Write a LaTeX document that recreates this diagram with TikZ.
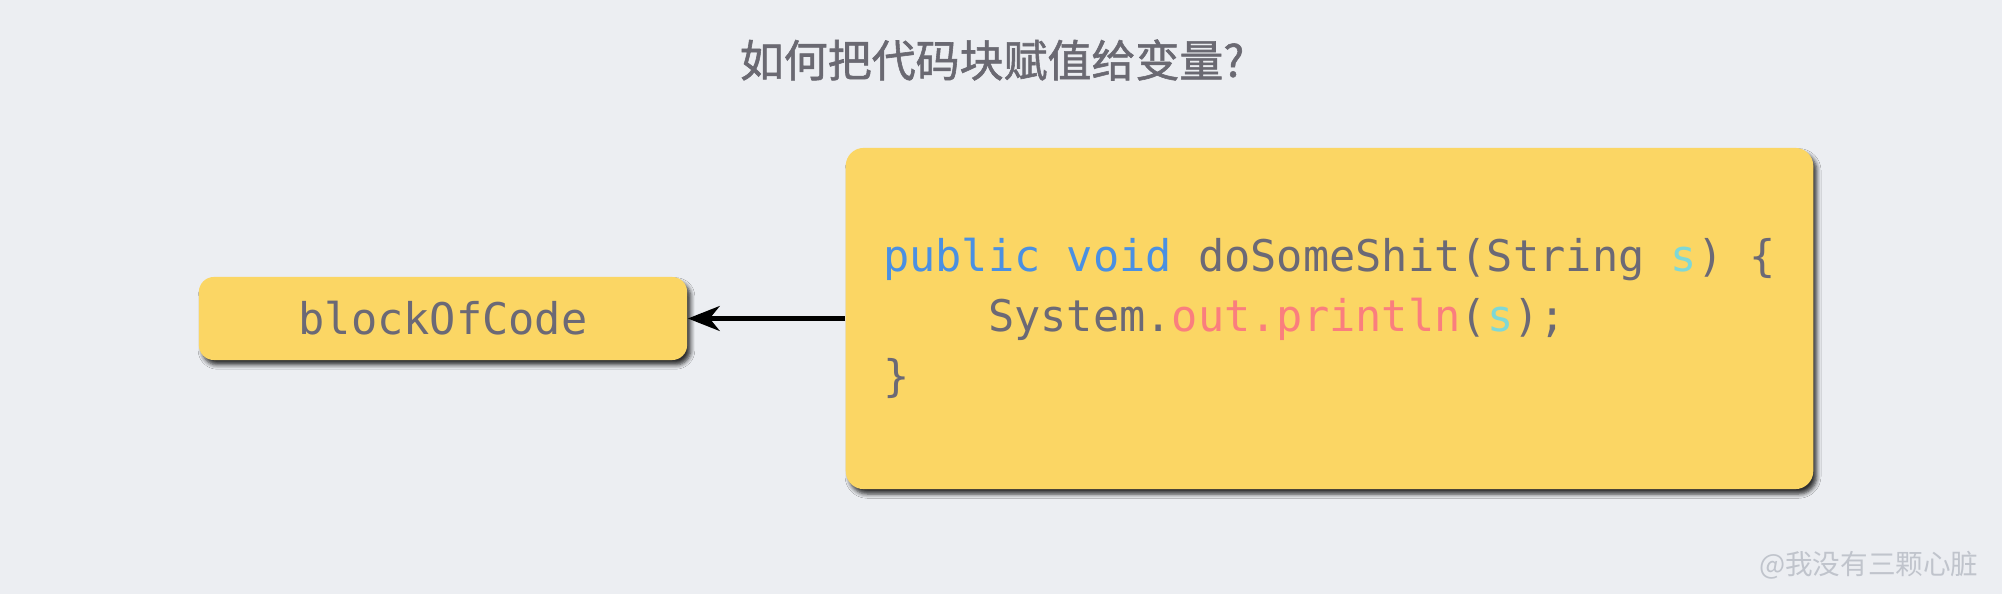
\documentclass[tikz,border=0pt]{standalone}
\usepackage{fontspec}
\setmonofont{DejaVu Sans Mono}
\newfontfamily\cjk{Noto Sans CJK SC}
\newfontfamily\cjkheavy[FakeBold=1.3]{Noto Sans CJK SC}
\usetikzlibrary{arrows.meta,shadows.blur}

\definecolor{bgpage}{HTML}{ECEEF2}
\definecolor{boxyellow}{HTML}{FBD664}
\definecolor{codegray}{HTML}{6B6976}
\definecolor{titlegray}{HTML}{6A6972}
\definecolor{kwblue}{HTML}{4A90E2}
\definecolor{fnpink}{HTML}{FA7E7E}
\definecolor{argcyan}{HTML}{7FD8D6}
\definecolor{markgray}{HTML}{C0C4CC}

\newcommand{\kw}[1]{\textcolor{kwblue}{#1}}
\newcommand{\fn}[1]{\textcolor{fnpink}{#1}}
\newcommand{\argvar}[1]{\textcolor{argcyan}{#1}}

\begin{document}
\begin{tikzpicture}[
  x=0.01cm, y=-0.01cm,
  yellowbox/.style={fill=boxyellow, text=codegray,
    blur shadow={shadow xshift=1pt, shadow yshift=-1.4pt, shadow blur radius=1.2pt,
      shadow blur steps=5, shadow opacity=80}},
  varbox/.style={yellowbox, rounded corners=0.15cm, minimum width=4.88cm, minimum height=0.83cm,
    inner sep=0pt, font=\ttfamily\fontsize{12.4}{15}\selectfont},
  codebox/.style={yellowbox, rounded corners=0.18cm, minimum width=9.67cm, minimum height=3.41cm,
    inner sep=0pt, align=left, font=\ttfamily\fontsize{12.4}{17.07}\selectfont},
  title/.style={text=titlegray, font=\cjkheavy\fontsize{12.5}{15}\selectfont},
  watermark/.style={text=markgray, font=\cjk\fontsize{7.85}{10}\selectfont},
  arrow/.style={-{Stealth[length=9pt, width=7pt, inset=2.8pt]}, line width=1.6pt, black},
]
  \fill[bgpage] (0,0) rectangle (2002,594);

  \node[title] (title) at (992,60) {如何把代码块赋值给变量?};

  \node[varbox] (var) at (443,318.5) {blockOfCode};
  \node[codebox] (code) at (1329.5,318.5) {%
    \kw{public void} doSomeShit(String \argvar{s}) \{\\
    \hphantom{xxxx}System.\fn{out.println}(\argvar{s});\\
    \}};

  \draw[arrow] (code) -- (var);

  \node[watermark, anchor=east] (mark) at (1991,565) {@我没有三颗心脏};
\end{tikzpicture}
\end{document}
